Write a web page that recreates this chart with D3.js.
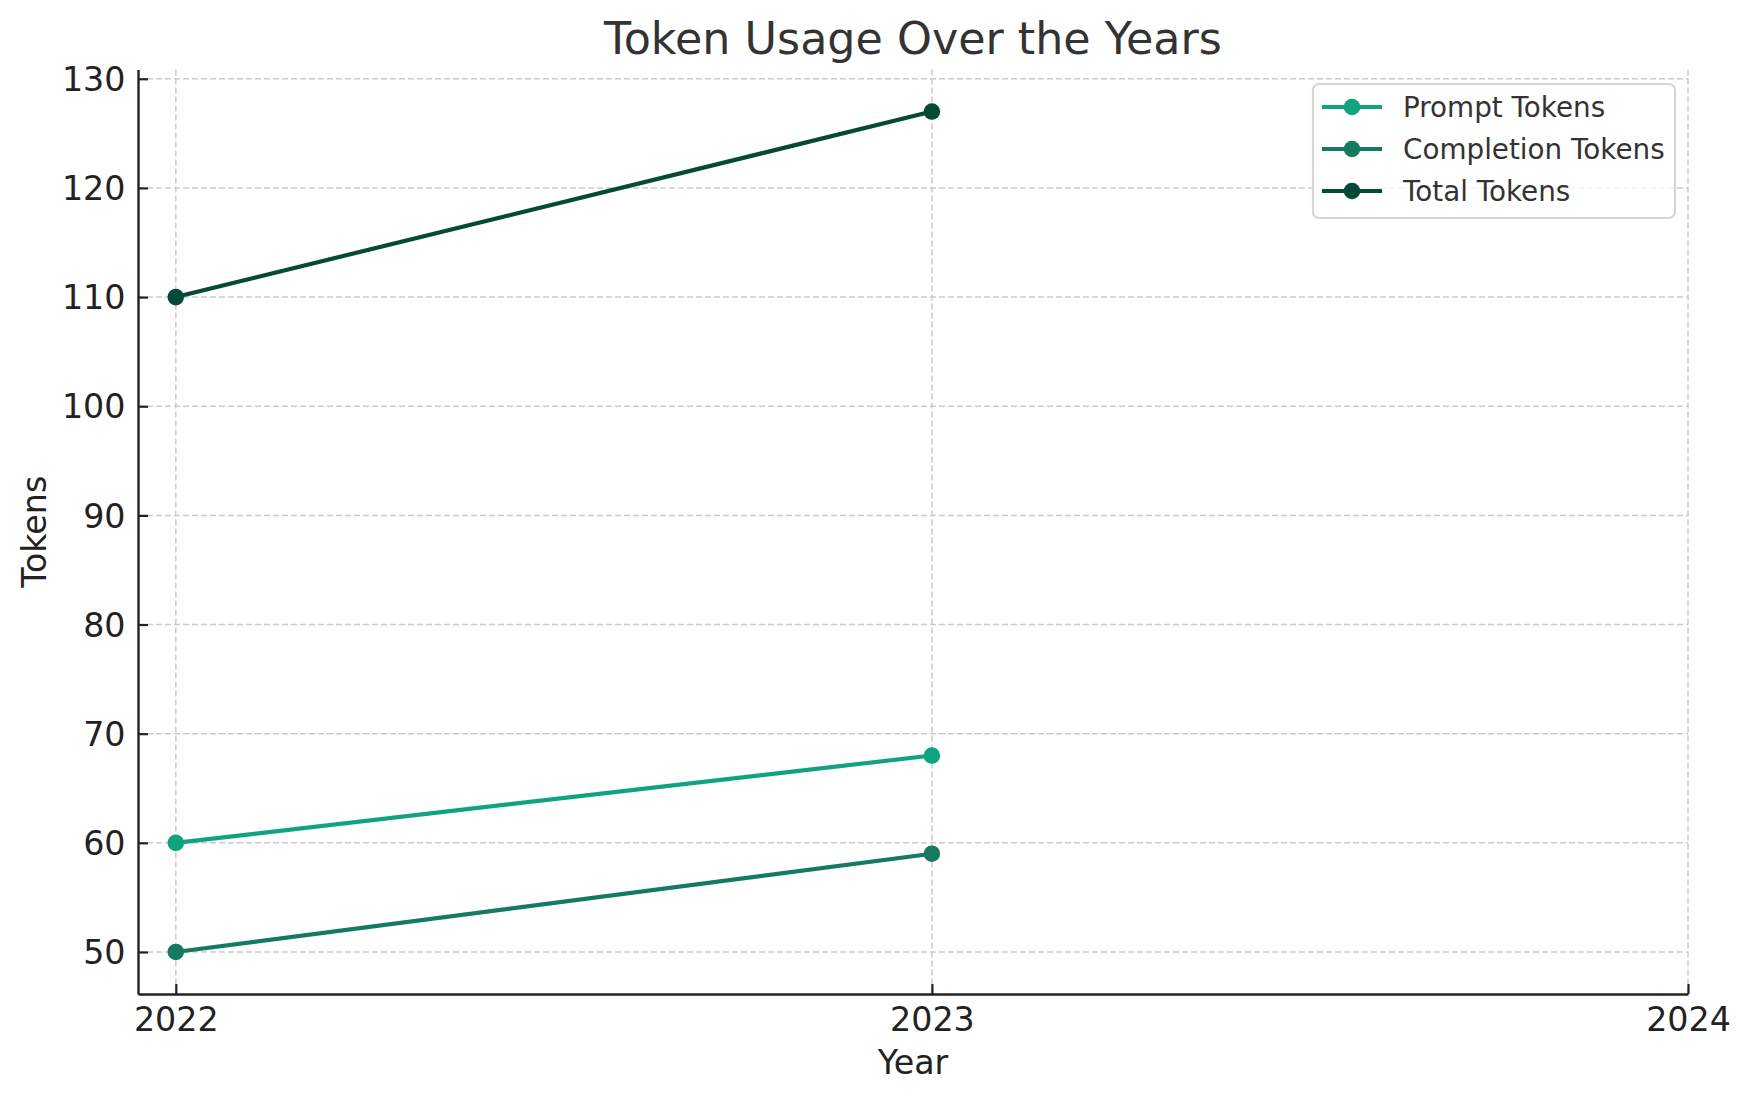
<!DOCTYPE html>
<html>
<head>
<meta charset="utf-8">
<script src="https://cdn.jsdelivr.net/npm/d3@7"></script>
<style>
  html, body { margin: 0; padding: 0; background: #fff; }
  svg { display: block; }
  text { font-family: "DejaVu Sans", sans-serif; }
</style>
</head>
<body>
<svg id="chart" width="1750" height="1101"></svg>
<script>
// ---- Data ----
const years = [2022, 2023];
const promptTokens = [60, 68];
const completionTokens = [50, 59];
const totalTokens = [110, 127];
const seriesNames = ["Prompt Tokens", "Completion Tokens", "Total Tokens"];
const seriesColors = ["#10a37f", "#157a5f", "#054a36"];
const xTickValues = [2022, 2023, 2024];
const yTickValues = [50, 60, 70, 80, 90, 100, 110, 120, 130];
const xDomain = [2021.95, 2024];
const yDomain = [46.15, 130.85];

const series = [promptTokens, completionTokens, totalTokens].map((vals, i) => ({
  name: seriesNames[i],
  color: seriesColors[i],
  points: years.map((y, j) => ({ year: y, value: vals[j] }))
}));

// ---- Layout ----
const W = 1750, H = 1101;
const plot = { left: 138, right: 1688, top: 69.5, bottom: 994 };

const svg = d3.select("#chart");
const x = d3.scaleLinear().domain(xDomain).range([plot.left, plot.right]);
const y = d3.scaleLinear().domain(yDomain).range([plot.bottom, plot.top]);

// ---- Grid ----
const grid = svg.append("g");
grid.selectAll("line.gy").data(yTickValues).join("line")
  .attr("x1", plot.left).attr("x2", plot.right)
  .attr("y1", d => y(d)).attr("y2", d => y(d))
  .attr("stroke", "#cccccc").attr("stroke-width", 1.5)
  .attr("stroke-dasharray", "6,3");
grid.selectAll("line.gx").data(xTickValues).join("line")
  .attr("x1", d => x(d)).attr("x2", d => x(d))
  .attr("y1", plot.top).attr("y2", plot.bottom)
  .attr("stroke", "#cccccc").attr("stroke-width", 1.5)
  .attr("stroke-dasharray", "6,3");

// ---- Axes ----
const tickFont = 33.3;
const xAxis = d3.axisBottom(x).tickValues(xTickValues).tickFormat(d3.format("d"))
  .tickSizeInner(-10).tickSizeOuter(0).tickPadding(22);
const yAxis = d3.axisLeft(y).tickValues(yTickValues).tickFormat(d3.format("d"))
  .tickSizeInner(-10).tickSizeOuter(0).tickPadding(22);

const gx = svg.append("g").attr("transform", `translate(0,${plot.bottom})`).call(xAxis);
const gy = svg.append("g").attr("transform", `translate(${plot.left},0)`).call(yAxis);

[gx, gy].forEach(g => {
  g.select(".domain").attr("stroke", "#222").attr("stroke-width", 2.4);
  g.selectAll(".tick line").attr("stroke", "#222").attr("stroke-width", 2.2);
  g.selectAll(".tick text").attr("fill", "#222").attr("font-size", tickFont)
    .attr("font-family", "DejaVu Sans");
});
gx.selectAll(".tick text").attr("dy", null).attr("y", 37);
gy.selectAll(".tick text").attr("x", -12.5).attr("dy", "0.35em");

// ---- Lines & markers ----
const line = d3.line().x(d => x(d.year)).y(d => y(d.value));
const sg = svg.append("g");
series.forEach(s => {
  sg.append("path").datum(s.points)
    .attr("d", line).attr("fill", "none")
    .attr("stroke", s.color).attr("stroke-width", 4.2)
    .attr("stroke-linejoin", "round").attr("stroke-linecap", "square");
  sg.selectAll(null).data(s.points).join("circle")
    .attr("cx", d => x(d.year)).attr("cy", d => y(d.value))
    .attr("r", 8.3).attr("fill", s.color);
});

// ---- Title & axis labels ----
svg.append("text").attr("x", (plot.left + plot.right) / 2).attr("y", 54)
  .attr("text-anchor", "middle").attr("font-size", 44.4).attr("fill", "#333")
  .text("Token Usage Over the Years");
svg.append("text").attr("x", (plot.left + plot.right) / 2).attr("y", 1074)
  .attr("text-anchor", "middle").attr("font-size", 33.3).attr("fill", "#222")
  .text("Year");
svg.append("text")
  .attr("transform", `translate(45.5,${(plot.top + plot.bottom) / 2}) rotate(-90)`)
  .attr("text-anchor", "middle").attr("font-size", 33.3).attr("fill", "#222")
  .text("Tokens");

// ---- Legend ----
const lg = svg.append("g");
lg.append("rect").attr("x", 1313).attr("y", 84).attr("width", 362).attr("height", 134)
  .attr("rx", 6).attr("ry", 6)
  .attr("fill", "rgba(255,255,255,0.8)").attr("stroke", "#d6d6d6").attr("stroke-width", 2.2);
const rowY = d3.scalePoint().domain(seriesNames).range([107, 191]);
const rows = lg.selectAll("g.row").data(series).join("g")
  .attr("transform", d => `translate(0,${rowY(d.name)})`);
rows.append("line").attr("x1", 1322).attr("x2", 1382).attr("y1", 0).attr("y2", 0)
  .attr("stroke", d => d.color).attr("stroke-width", 4.2);
rows.append("circle").attr("cx", 1352).attr("cy", 0).attr("r", 8.3).attr("fill", d => d.color);
rows.append("text").attr("x", 1403).attr("y", 0).attr("dy", "0.35em")
  .attr("font-size", 27.8).attr("fill", "#333").text(d => d.name);
</script>
</body>
</html>
